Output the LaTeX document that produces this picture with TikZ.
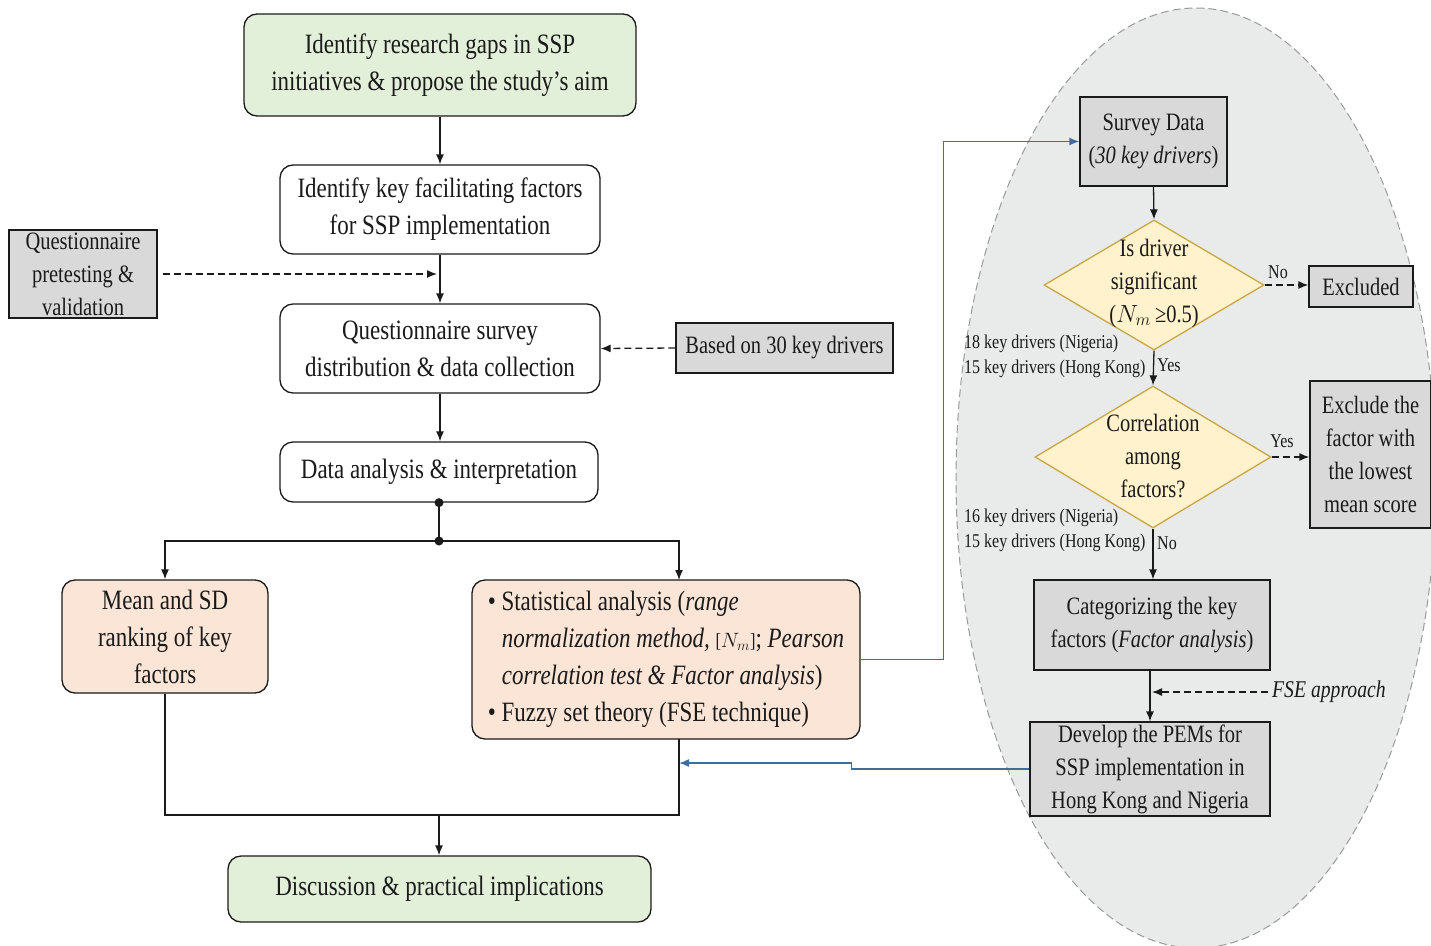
\documentclass[tikz,border=0pt]{standalone}
\usepackage{fontspec}
\setmainfont{Liberation Serif}[FakeStretch=0.82]
\usetikzlibrary{shapes.geometric,arrows.meta,calc}
\definecolor{gfill}{HTML}{E2EFD9}
\definecolor{sfill}{HTML}{FBE5D6}
\definecolor{grayfill}{HTML}{D9D9D9}
\definecolor{ellfill}{HTML}{E9EBEA}
\definecolor{ellline}{HTML}{9A9A9A}
\definecolor{dfill}{HTML}{FFF2CC}
\definecolor{dline}{HTML}{C9A646}
\definecolor{bline}{HTML}{3E6E9C}
\definecolor{ink}{HTML}{1A1A1A}
\tikzset{
  base/.style={draw=ink, line width=1.3pt, align=center, inner sep=0pt, text=ink, font=\fontsize{28}{37}\selectfont},
  rbox/.style={base, rounded corners=13pt, fill=white},
  gbox/.style={rbox, fill=gfill},
  sbox/.style={rbox, fill=sfill},
  qbox/.style={base, fill=grayfill, font=\fontsize{25}{33}\selectfont},
  dia/.style={diamond, draw=dline, fill=dfill, line width=1.3pt, inner sep=0pt},
  dtext/.style={align=center, inner sep=0pt, text=ink, font=\fontsize{25}{33}\selectfont},
  lab/.style={inner sep=0pt, text=ink, font=\fontsize{19.5}{25}\selectfont},
  conn/.style={draw=ink, line width=1.3pt},
  arr/.style={conn, -{Latex[length=10pt,width=8pt]}},
  darr/.style={arr, dash pattern=on 7pt off 4pt},
  barr/.style={draw=bline, line width=1.5pt, -{Latex[length=10pt,width=8pt]}},
  dot/.style={circle, fill=ink, inner sep=0pt, minimum size=9pt}
}
\begin{document}
\begin{tikzpicture}[x=1pt,y=-1pt]
\useasboundingbox (0,0) rectangle (1431,945);
\begin{scope}
  \clip (0,0) rectangle (1431,945);
  \draw[fill=ellfill, draw=ellline, line width=1pt, dash pattern=on 8pt off 4pt] (1196,478) ellipse [x radius=240pt, y radius=470pt];
\end{scope}

% left column
\node[gbox, minimum width=392pt, minimum height=102pt] (b1) at (440,65) {Identify research gaps in SSP\\initiatives \& propose the study’s aim};
\node[rbox, minimum width=320pt, minimum height=89pt] (b2) at (440,209.5) {Identify key facilitating factors\\for SSP implementation};
\node[rbox, minimum width=320pt, minimum height=89pt] (b3) at (440,348.5) {Questionnaire survey\\distribution \& data collection};
\node[rbox, minimum width=318pt, minimum height=60pt] (b4) at (439,472) {Data analysis \& interpretation};
\node[sbox, minimum width=206pt, minimum height=113pt] (b5) at (165,636.5) {Mean and SD\\ranking of key\\factors};
\node[sbox, minimum width=388pt, minimum height=159pt, align=left] (b6) at (666,659.5) {\textbullet\ Statistical analysis (\textit{range}\\\hspace*{14pt}\textit{normalization method,} {\fontsize{20}{20}\selectfont[$N_m$]}; \textit{Pearson}\\\hspace*{14pt}\textit{correlation test \& Factor analysis})\\\textbullet\ Fuzzy set theory (FSE technique)};
\node[gbox, minimum width=423pt, minimum height=66pt] (b7) at (439.5,889) {Discussion \& practical implications};
\node[qbox, minimum width=148pt, minimum height=88pt] (q) at (83,274) {Questionnaire\\pretesting \&\\validation};
\node[qbox, minimum width=217pt, minimum height=50pt] (based) at (784.5,348) {Based on 30 key drivers};

% right column
\node[qbox, minimum width=147pt, minimum height=89pt] (sd) at (1153.5,141.5) {Survey Data\\(\textit{30 key drivers})};
\node[dia, minimum width=220pt, minimum height=130pt] (d1) at (1154,285) {};
\node[dtext] (d1t) at (1154,283) {Is driver\\significant\\($N_m$\,≥0.5)};
\node[qbox, minimum width=104pt, minimum height=41pt] (exc) at (1361,286.5) {Excluded};
\node[dia, minimum width=236pt, minimum height=142pt] (d2) at (1153,457) {};
\node[dtext] (d2t) at (1153,456) {Correlation\\among\\factors?};
\node[qbox, minimum width=121pt, minimum height=147pt] (exl) at (1370.5,454.5) {Exclude the\\factor with\\the lowest\\mean score};
\node[qbox, minimum width=236pt, minimum height=90pt] (cat) at (1152,625) {Categorizing the key\\factors (\textit{Factor analysis})};
\node[qbox, minimum width=240pt, minimum height=94pt] (dev) at (1150,769) {Develop the PEMs for\\SSP implementation in\\Hong Kong and Nigeria};

% labels
\node[lab] (no1) at (1278,272) {No};
\node[lab] (yes1) at (1169,365) {Yes};
\node[lab, anchor=west, align=left] (n1) at (964,356) {18 key drivers (Nigeria)\\15 key drivers (Hong Kong)};
\node[lab] (yes2) at (1282,441) {Yes};
\node[lab, anchor=west, align=left] (n2) at (964,530) {16 key drivers (Nigeria)\\15 key drivers (Hong Kong)};
\node[lab] (no2) at (1167,543) {No};
\coordinate (fse) at (1268,692);
\node[lab, anchor=west, font=\fontsize{24}{30}\selectfont\itshape] (fset) at (1272,692) {FSE approach};

% coordinates
\coordinate (j2) at (439,541);
\coordinate (b6in) at (679,580);
\coordinate (b6out) at (679,739);
\coordinate (m) at (439,815);
\coordinate (back) at (679,763);

% blue connectors
\draw[barr] (b6.east) -- ++(83,0) |- (sd.west);
\draw[barr] (dev.west) -- ++(-178,0) |- (back);

% black connectors left
\draw[arr] (b1.south) -- (b2.north);
\draw[arr] (b2.south) -- (b3.north);
\draw[darr, shorten <=5pt, shorten >=3pt] (q.east) -- (b2.south |- q.east);
\draw[darr] (based.west) -- (b3.east);
\draw[arr] (b3.south) -- (b3.south |- b4.north);
\draw[conn] (b4.south) -- (j2);
\node[dot] (dt1) at (b4.south) {};
\node[dot] (dt2) at (j2) {};
\draw[arr] (j2) -| (b5.north);
\draw[arr] (j2) -| (b6in);
\draw[conn] (b5.south) |- (m) -| (b6out);
\draw[arr] (m) -- (m |- b7.north);

% black connectors right
\draw[arr] (sd.south) -- (d1.north);
\draw[darr] (d1.east) -- (d1.east -| exc.west);
\draw[arr] (d1.south) -- (d2.north);
\draw[darr] (d2.east) -- (d2.east -| exl.west);
\draw[arr] (d2.south) -- (d2.south |- cat.north);
\draw[arr] (cat.south -| dev.north) -- (dev.north);
\draw[darr, shorten >=2pt] (fse) -- (dev.north |- fse);
\end{tikzpicture}
\end{document}
